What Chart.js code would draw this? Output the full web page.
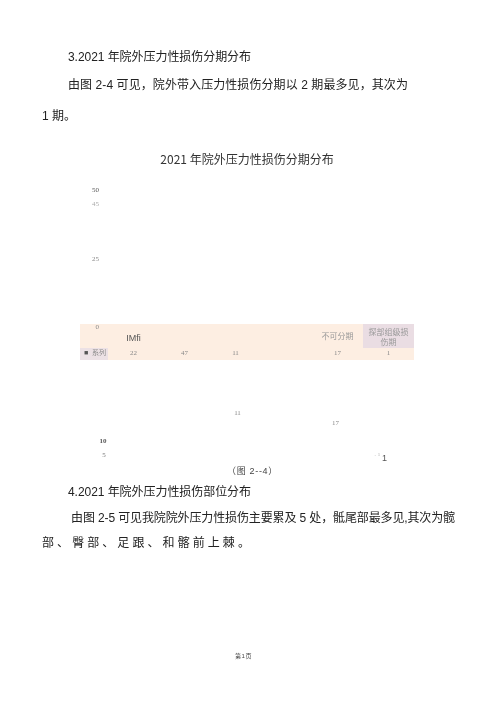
<!DOCTYPE html>
<html><head><meta charset="utf-8">
<script src="https://cdn.jsdelivr.net/npm/chart.js@4/dist/chart.umd.min.js"></script>
<style>
html,body{margin:0;padding:0;background:#fff;}
body{width:500px;height:707px;position:relative;overflow:hidden;font-family:"Liberation Sans","Noto Sans CJK SC",sans-serif;color:#222;}
#c{position:absolute;left:0;top:0;}
.t{position:absolute;white-space:nowrap;font-size:12px;line-height:20px;}
</style></head><body>
<canvas id="c" width="500" height="707"></canvas>
<div class="t" style="left:68px;top:47px" data-w="183">3.2021 年院外压力性损伤分期分布</div>
<div class="t" style="left:68px;top:75px" data-w="340">由图 2-4 可见，院外带入压力性损伤分期以 2 期最多见，其次为</div>
<div class="t" style="left:42px;top:106px">1 期。</div>
<div class="t" style="left:227px;top:463px;font-size:9px;line-height:16px;color:#444" data-w="51">（图 2--4）</div>
<div class="t" style="left:68px;top:482px" data-w="183">4.2021 年院外压力性损伤部位分布</div>
<div class="t" style="left:71px;top:508px" data-w="384">由图 2-5 可见我院院外压力性损伤主要累及 5 处，骶尾部最多见,其次为髋</div>
<div class="t" style="left:42px;top:533px" data-w="211">部、臀部、足跟、和髂前上棘。</div>
<div class="t" style="left:235px;top:650px;font-size:6px;line-height:12px;color:#444" data-w="17">第1页</div>
<script>
// ---- data ----
const chartTitle = '2021 年院外压力性损伤分期分布';
const categories = ['IMfi', '', '', '', '不可分期', ['探部组级损', '伤期']];
const seriesName = '系列';
const seriesValues = [22, 47, 11, null, 17, 1];
const yTickValues = [0, 25, 45, 50];
const strayTickLabels = ['10', '5'];

// fit document lines to measured widths
document.querySelectorAll('[data-w]').forEach(el => {
  const target = +el.dataset.w;
  const n = el.textContent.length;
  const w = el.getBoundingClientRect().width;
  el.style.letterSpacing = ((target - w) / n) + 'px';
});

const serif = '"Liberation Serif","Noto Sans CJK SC",serif';

const tablePlugin = {
  id: 'tableBand',
  beforeDraw(chart) {
    const {ctx, chartArea: a, scales: {x}} = chart;
    const w = x.getPixelForValue(1) - x.getPixelForValue(0);
    ctx.save();
    ctx.fillStyle = '#fdeee2';
    ctx.fillRect(80, 324, a.right - 80, 36);
    ctx.fillStyle = '#eadde3';
    ctx.fillRect(x.getPixelForValue(5) - w / 2, 324, w, 24);
    ctx.fillStyle = '#ece1e5';
    ctx.fillRect(80, 348, a.left - 80, 12);
    ctx.restore();
  },
  afterDraw(chart) {
    const {ctx, scales: {x}} = chart;
    ctx.save();
    ctx.textAlign = 'center';
    ctx.textBaseline = 'middle';
    // header row: category labels
    chart.data.labels.forEach((lab, i) => {
      const px = x.getPixelForValue(i);
      if (i === 0) {
        ctx.font = '9px "Liberation Sans",sans-serif';
        ctx.fillStyle = '#555';
      } else {
        ctx.font = '8px ' + serif;
        ctx.fillStyle = '#999';
      }
      const lines = Array.isArray(lab) ? lab : [lab];
      const y0 = lines.length > 1 ? 333 : (i === 0 ? 339 : 337);
      lines.forEach((ln, k) => ctx.fillText(ln, px, y0 + k * 10));
    });
    // series row
    ctx.font = '7px ' + serif;
    ctx.fillStyle = '#888';
    seriesValues.forEach((v, i) => {
      if (v !== null) ctx.fillText(String(v), x.getPixelForValue(i), 353);
    });
    ctx.fillStyle = '#555';
    ctx.fillText('■', 86, 353);
    ctx.fillStyle = '#888';
    ctx.fillText(seriesName, 99, 353);
    // stray labels below the chart
    ctx.fillText(String(seriesValues[2]), x.getPixelForValue(2) + 2, 413);
    ctx.fillText(String(seriesValues[4]), x.getPixelForValue(4) - 2, 423);
    ctx.fillStyle = '#bbb';
    ctx.fillText('· ¹', 377, 456);
    ctx.font = '9px "Liberation Sans",sans-serif';
    ctx.fillStyle = '#555';
    ctx.fillText(String(seriesValues[5]), x.getPixelForValue(5) - 4, 459);
    ctx.font = 'bold 7px ' + serif;
    ctx.fillStyle = '#555';
    ctx.fillText(strayTickLabels[0], 103, 441);
    ctx.font = '7px ' + serif;
    ctx.fillStyle = '#777';
    ctx.fillText(strayTickLabels[1], 104, 455);
    ctx.restore();
  }
};

new Chart(document.getElementById('c'), {
  type: 'bar',
  data: {
    labels: categories,
    datasets: [{
      label: seriesName,
      data: seriesValues,
      backgroundColor: 'rgba(0,0,0,0)',
      borderWidth: 0
    }]
  },
  options: {
    responsive: false,
    animation: false,
    devicePixelRatio: 1,
    layout: {padding: {left: 80, right: 86, top: 152, bottom: 340}},
    plugins: {
      legend: {display: false},
      tooltip: {enabled: false},
      title: {
        display: true,
        text: chartTitle,
        color: '#333',
        font: {size: 12, weight: 'normal', family: '"Noto Sans CJK SC",sans-serif'},
        padding: {top: 0, bottom: 24}
      }
    },
    scales: {
      x: {
        grid: {display: false, drawTicks: false},
        border: {display: false},
        afterFit(s) { s.height = 40; },
        ticks: {display: false}
      },
      y: {
        min: 0,
        max: 50,
        grid: {display: false, drawTicks: false},
        border: {display: false},
        afterFit(s) { s.width = 28; },
        afterBuildTicks(s) { s.ticks = yTickValues.map(v => ({value: v})); },
        ticks: {
          padding: 9,
          font: {size: 7, family: serif},
          color: c => c.tick && c.tick.value === 50 ? '#555' : (c.tick && c.tick.value === 45 ? '#aaa' : '#888'),
          callback: v => String(v)
        }
      }
    }
  },
  plugins: [tablePlugin]
});
</script>
</body></html>
